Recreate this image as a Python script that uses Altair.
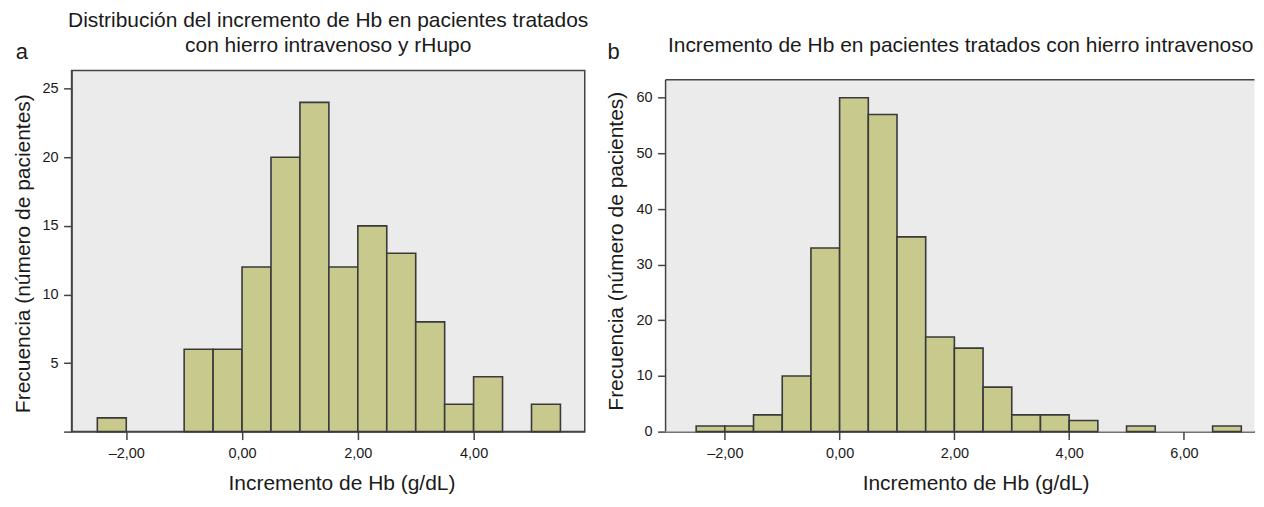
import altair as alt
import pandas as pd

# ---------------- data ----------------
bin_width = 0.5
bins_a = [-2.5, -1.0, -0.5, 0.0, 0.5, 1.0, 1.5, 2.0, 2.5, 3.0, 3.5, 4.0, 5.0]
counts_a = [1, 6, 6, 12, 20, 24, 12, 15, 13, 8, 2, 4, 2]
bins_b = [-2.5, -2.0, -1.5, -1.0, -0.5, 0.0, 0.5, 1.0, 1.5, 2.0, 2.5, 3.0, 3.5, 4.0, 5.0, 6.5]
counts_b = [1, 1, 3, 10, 33, 60, 57, 35, 17, 15, 8, 3, 3, 2, 1, 1]

x_ticks_a = [-2, 0, 2, 4]
x_ticks_b = [-2, 0, 2, 4, 6]
y_ticks_a = [0, 5, 10, 15, 20, 25]
y_ticks_b = [0, 10, 20, 30, 40, 50, 60]

x_domain_a = [-2.945, 5.92]
y_domain_a = [0, 26.33]
x_domain_b = [-3.033, 7.23]
y_domain_b = [0, 64.92]
frame_b = [-3.033, 7.23, 0, 63.25]   # x0, x1, y0, y1 of panel b's grey frame

title_a = ["Distribución del incremento de Hb en pacientes tratados",
           "con hierro intravenoso y rHupo"]
title_b = ["Incremento de Hb en pacientes tratados con hierro intravenoso"]
x_title = "Incremento de Hb (g/dL)"
y_title = "Frecuencia (número de pacientes)"
letter_a = ["a"]
letter_b = ["b"]

# ---------------- styling ----------------
FONT = "Liberation Sans"
TXT = "#1a1a1a"
LINE = "#444444"
BG = "#EBEBEB"
BAR = "#C8C98C"
BAR_STROKE = "#3a3a3a"
PLOT_H = 362
W_A = 514.3
W_B = 590.2

x_label_expr = "(datum.value < 0 ? '–' : '') + replace(format(abs(datum.value), '.2f'), '.', ',')"


def x_enc(field, ticks, domain, title_x):
    return alt.X(
        field,
        type="quantitative",
        scale=alt.Scale(domain=domain, nice=False, zero=False),
        axis=alt.Axis(
            values=ticks, labelExpr=x_label_expr, title=x_title,
            titleX=title_x, titleY=58.5, titleBaseline="alphabetic",
            labelFontSize=14.5, labelPadding=6.6, tickSize=8,
            grid=False,
        ),
    )


def y_enc(field, ticks, domain, title_x, title_y, hide_zero, domain_line):
    expr = "datum.value == 0 ? '' : datum.label" if hide_zero else "datum.label"
    return alt.Y(
        field,
        type="quantitative",
        scale=alt.Scale(domain=domain, nice=False, zero=True),
        axis=alt.Axis(
            values=ticks, labelExpr=expr, title=y_title,
            titleX=title_x, titleY=title_y, titleBaseline="alphabetic",
            labelFontSize=14.5, labelPadding=5.5, tickSize=8,
            domain=domain_line, grid=False,
        ),
    )


def text_layer(lines, x, y, size, align):
    return alt.Chart(pd.DataFrame({"t": ["\n".join(lines)]})).mark_text(
        font=FONT, fontSize=size, align=align, baseline="alphabetic",
        color=TXT, lineBreak="\n", lineHeight=25,
    ).encode(text="t:N", x=alt.value(x), y=alt.value(y))


df_a = pd.DataFrame({"start": bins_a, "count": counts_a})
df_a["end"] = df_a["start"] + bin_width
df_a["base"] = 0
df_b = pd.DataFrame({"start": bins_b, "count": counts_b})
df_b["end"] = df_b["start"] + bin_width
df_b["base"] = 0

# ---------------- panel a ----------------
bars_a = alt.Chart(df_a).mark_bar(
    fill=BAR, stroke=BAR_STROKE, strokeWidth=1.6
).encode(
    x=x_enc("start", x_ticks_a, x_domain_a, 270.5),
    x2="end",
    y=y_enc("count", y_ticks_a, y_domain_a, -42.5, 183.2, True, True),
    y2="base",
)

panel_a = alt.layer(
    bars_a,
    text_layer(title_a, W_A / 2, -43.3, 21, "center"),
    text_layer(letter_a, -56, -11.3, 22, "left"),
).properties(
    width=W_A, height=PLOT_H,
    view=alt.ViewBackground(fill=BG, stroke=LINE, strokeWidth=1.5),
)

# ---------------- panel b ----------------
XB = lambda f: x_enc(f, x_ticks_b, x_domain_b, 310.7)
YB = lambda f: y_enc(f, y_ticks_b, y_domain_b, -43.3, 180.7, False, False)

frame_df = pd.DataFrame({"x0": [frame_b[0]], "x1": [frame_b[1]],
                         "y0": [frame_b[2]], "y1": [frame_b[3]]})
frame_fill = alt.Chart(frame_df).mark_rect(fill=BG, strokeWidth=0).encode(
    x=XB("x0"), x2="x1", y=YB("y0"), y2="y1")
frame_top = alt.Chart(frame_df).mark_rule(color=LINE, strokeWidth=1.5).encode(
    x=XB("x0"), x2="x1", y=YB("y1"))
frame_left = alt.Chart(frame_df).mark_rule(color=LINE, strokeWidth=1.5).encode(
    x=XB("x0"), y=YB("y0"), y2="y1")

bars_b = alt.Chart(df_b).mark_bar(
    fill=BAR, stroke=BAR_STROKE, strokeWidth=1.6
).encode(x=XB("start"), x2="end", y=YB("count"), y2="base")

panel_b = alt.layer(
    frame_fill,
    frame_top,
    frame_left,
    bars_b,
    text_layer(title_b, 295.7, -18.3, 21, "center"),
    text_layer(letter_b, -58.3, -11, 22, "left"),
).properties(
    width=W_B, height=PLOT_H,
    view=alt.ViewBackground(fill="transparent", stroke="transparent"),
)

chart = alt.hconcat(panel_a, panel_b, spacing=80.3, bounds="flush").properties(
    padding={"left": 2.7, "top": 0, "right": 0, "bottom": 0},
    background="white",
).configure_axis(
    labelFont=FONT, titleFont=FONT, labelColor=TXT, titleColor=TXT,
    titleFontSize=21, titleFontWeight="normal",
    domainColor=LINE, domainWidth=1.5, tickColor=LINE, tickWidth=1.5,
).configure_view(stroke="transparent")

chart.save("out.html", embed_options={"renderer": "svg", "actions": False})
